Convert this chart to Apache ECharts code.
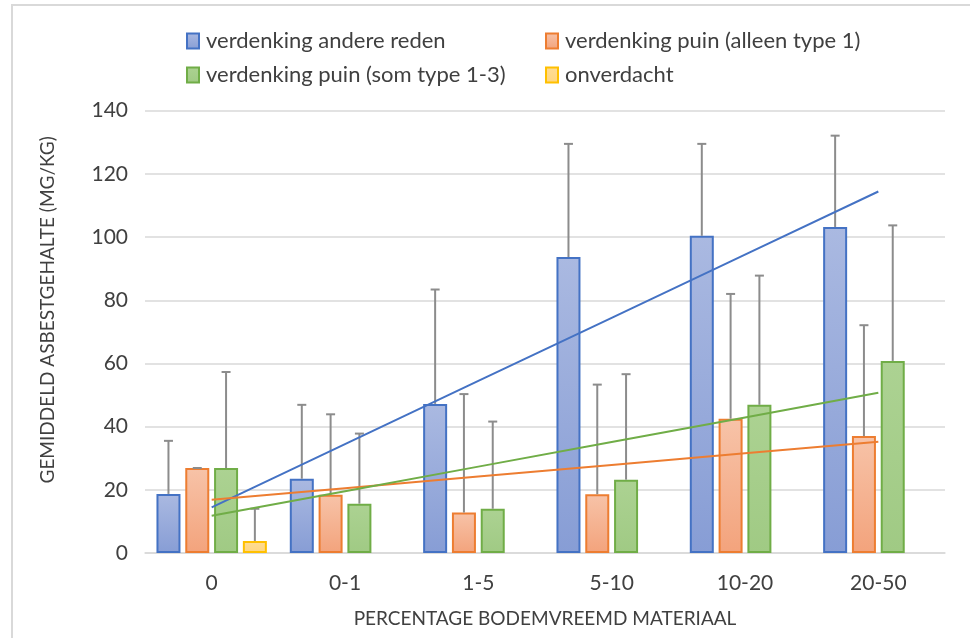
<!DOCTYPE html>
<html>
<head>
<meta charset="utf-8">
<script src="https://cdn.jsdelivr.net/npm/echarts@6/dist/echarts.min.js"></script>
<style>
  html, body { margin: 0; padding: 0; background: #fff; }
  #chart { width: 970px; height: 638px; }
</style>
</head>
<body>
<div id="chart"></div>
<script>
// Percentage soil-foreign material classes
const categories = ['0', '0-1', '1-5', '5-10', '10-20', '20-50'];

// Mean asbestos content (mg/kg) per suspicion class
const andereReden = [18.7, 23.5, 47.2, 93.7, 100.4, 103.2];
const puinAlleen  = [26.9, 18.4, 12.8, 18.6, 42.5, 37.0];
const puinSom     = [26.9, 15.6, 14.0, 23.2, 46.9, 60.8];
const onverdacht  = [3.8, null, null, null, null, null];

// Upward error (standard deviation) per bar
const andereRedenErr = [16.8, 23.4, 36.2, 35.8, 29.1, 28.9];
const puinAlleenErr  = [0, 25.5, 37.5, 34.7, 39.5, 35.1];
const puinSomErr     = [30.4, 22.2, 27.6, 33.4, 40.9, 42.9];
const onverdachtErr  = [10.2, null, null, null, null, null];

const yTicks = [0, 20, 40, 60, 80, 100, 120, 140];

const seriesNames = [
  'verdenking andere reden',
  'verdenking puin (alleen type 1)',
  'verdenking puin (som type 1-3)',
  'onverdacht'
];

const FONT = 'Lato';
const TEXT = '#404040';
const BAR_WIDTH_RATIO = 0.18;
const BAR_GAP_RATIO = 0.2;

function grad(top, bottom) {
  return new echarts.graphic.LinearGradient(0, 0, 0, 1, [
    { offset: 0, color: top },
    { offset: 1, color: bottom }
  ]);
}

const styles = [
  { fill: grad('#aab9e1', '#879dd5'), border: '#4472c4' },
  { fill: grad('#f7c3a8', '#f3a37c'), border: '#ed7d31' },
  { fill: grad('#acd292', '#a0ca84'), border: '#70ad47' },
  { fill: grad('#ffdc95', '#ffd67f'), border: '#ffc000' }
];

const values = [andereReden, puinAlleen, puinSom, onverdacht];
const errors = [andereRedenErr, puinAlleenErr, puinSomErr, onverdachtErr];

// Least-squares linear trend over category positions 1..n
function linearTrend(arr) {
  const pts = arr.map((v, i) => [i + 1, v]).filter(p => p[1] != null);
  const n = pts.length;
  const mx = pts.reduce((s, p) => s + p[0], 0) / n;
  const my = pts.reduce((s, p) => s + p[1], 0) / n;
  let sxy = 0, sxx = 0;
  pts.forEach(p => { sxy += (p[0] - mx) * (p[1] - my); sxx += (p[0] - mx) ** 2; });
  const slope = sxy / sxx;
  const icpt = my - slope * mx;
  return arr.map((_, i) => +(icpt + slope * (i + 1)).toFixed(3));
}

const series = [];

values.forEach((vals, i) => {
  series.push({
    name: seriesNames[i],
    type: 'bar',
    data: vals,
    barWidth: (BAR_WIDTH_RATIO * 100) + '%',
    barGap: (BAR_GAP_RATIO * 100) + '%',
    itemStyle: { color: styles[i].fill, borderColor: styles[i].border, borderWidth: 2 },
    emphasis: { disabled: true },
    z: 2
  });
});

// Error bars: vertical whisker with a cap, offset to each bar slot
values.forEach((vals, i) => {
  const data = vals.map((v, c) => v == null ? null : [c, v, v + errors[i][c]]).filter(d => d);
  series.push({
    name: 'err-' + i,
    type: 'custom',
    data: data,
    z: 3,
    silent: true,
    renderItem: function (params, api) {
      const c = api.value(0);
      const base = api.coord([c, api.value(1)]);
      const top = api.coord([c, api.value(2)]);
      const band = api.size([1, 0])[0];
      const bw = band * BAR_WIDTH_RATIO;
      const n = values.length;
      const x = base[0] + (i - (n - 1) / 2) * bw * (1 + BAR_GAP_RATIO);
      const cap = 4.5;
      const st = { stroke: '#8c8c8c', lineWidth: 2 };
      return {
        type: 'group',
        children: [
          { type: 'line', shape: { x1: x, y1: base[1], x2: x, y2: top[1] }, style: st },
          { type: 'line', shape: { x1: x - cap, y1: top[1], x2: x + cap, y2: top[1] }, style: st }
        ]
      };
    }
  });
});

// Linear trend lines for the three suspicion series
[0, 1, 2].forEach(i => {
  series.push({
    name: 'trend-' + i,
    type: 'line',
    data: linearTrend(values[i]),
    symbol: 'none',
    silent: true,
    z: 4,
    lineStyle: { color: styles[i].border, width: 2 }
  });
});

const legendText = { fontFamily: FONT, fontSize: 22, color: TEXT, padding: [0, 0, 0, 2] };

const legendBase = {
  orient: 'vertical',
  top: 30,
  padding: 0,
  itemGap: 12,
  itemWidth: 12, itemHeight: 15,
  icon: 'rect',
  textStyle: legendText,
  selectedMode: false
};

const option = {
  animation: false,
  backgroundColor: '#ffffff',
  graphic: [
    { type: 'line', shape: { x1: 11, y1: 5, x2: 970, y2: 5 }, style: { stroke: '#d9d9d9', lineWidth: 2 } },
    { type: 'line', shape: { x1: 12, y1: 4, x2: 12, y2: 638 }, style: { stroke: '#d9d9d9', lineWidth: 2 } }
  ],
  legend: [
    Object.assign({}, legendBase, { data: [seriesNames[0], seriesNames[2]], left: 186 }),
    Object.assign({}, legendBase, { data: [seriesNames[1], seriesNames[3]], left: 545 })
  ],
  grid: { left: 145, right: 25, top: 110.7, bottom: 85, containLabel: false },
  xAxis: {
    type: 'category',
    data: categories,
    axisLine: { lineStyle: { color: '#d9d9d9', width: 1.5 } },
    axisTick: { show: false },
    axisLabel: { fontFamily: FONT, fontSize: 21, color: TEXT, margin: 20 },
    name: 'PERCENTAGE BODEMVREEMD MATERIAAL',
    nameLocation: 'middle',
    nameGap: 56,
    nameTextStyle: { fontFamily: FONT, fontSize: 19, color: TEXT }
  },
  yAxis: {
    type: 'value',
    min: yTicks[0],
    max: yTicks[yTicks.length - 1],
    interval: yTicks[1] - yTicks[0],
    axisLine: { show: false },
    axisTick: { show: false },
    splitLine: { lineStyle: { color: '#d9d9d9', width: 1.5 } },
    axisLabel: { fontFamily: FONT, fontSize: 21, color: TEXT, margin: 17 },
    name: 'GEMIDDELD ASBESTGEHALTE (MG/KG)',
    nameLocation: 'middle',
    nameRotate: 90,
    nameGap: 88,
    nameTextStyle: { fontFamily: FONT, fontSize: 19, color: TEXT, padding: [0, 0, 0, 44] }
  },
  series: series
};

const chart = echarts.init(document.getElementById('chart'), null, { renderer: 'canvas' });
chart.setOption(option);
</script>
</body>
</html>
